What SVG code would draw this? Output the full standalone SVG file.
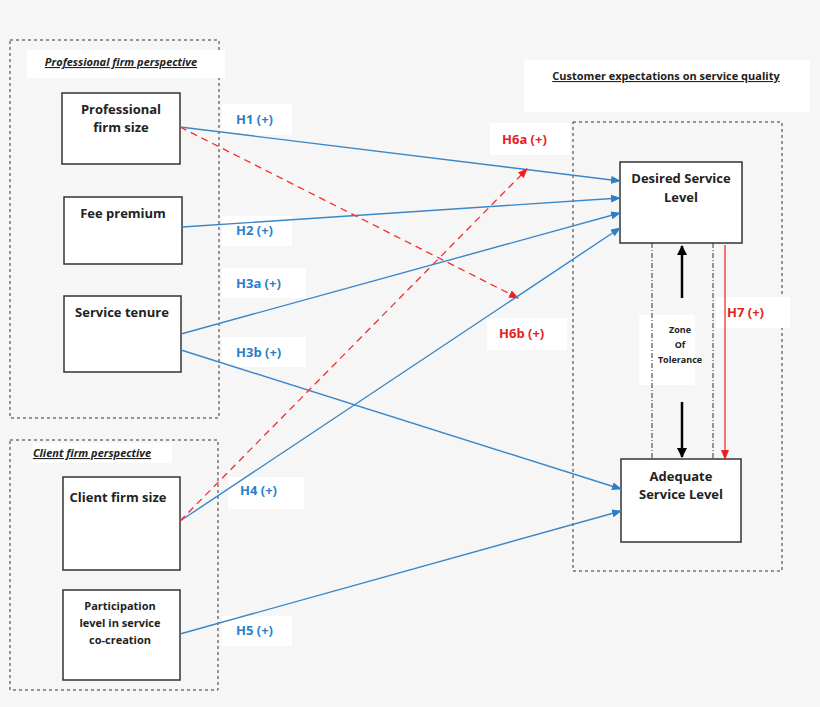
<svg xmlns="http://www.w3.org/2000/svg" width="820" height="707" viewBox="0 0 820 707">
<style>
text{font-family:"Open Sans","Liberation Sans",sans-serif;font-weight:bold;font-size:13px;fill:#222}
.node rect{fill:#fff;stroke:#333;stroke-width:1.5}
.wb{fill:#fff;stroke:none}
.grp{fill:none;stroke:#333;stroke-width:1;stroke-dasharray:3,3}
.b{fill:#2a7fc7;font-size:13px}
.r{fill:#e8201c;font-size:13px}
.t{font-size:11px;font-style:italic;text-decoration:underline}
.bl{stroke:#3a86c8;stroke-width:1.4;fill:none}
.rd{stroke:#f03030;stroke-width:1.3;fill:none;stroke-dasharray:7,5}
</style>
<defs>
<marker id="ab" markerWidth="10" markerHeight="8" refX="9" refY="4" orient="auto" markerUnits="userSpaceOnUse"><path d="M0,0L10,4L0,8z" fill="#2a7fc7"/></marker>
<marker id="ar" markerWidth="10" markerHeight="8" refX="9" refY="4" orient="auto" markerUnits="userSpaceOnUse"><path d="M0,0L10,4L0,8z" fill="#f02020"/></marker>
<marker id="ak" markerWidth="10" markerHeight="10" refX="9" refY="5" orient="auto" markerUnits="userSpaceOnUse"><path d="M0,0L10,5L0,10z" fill="#000"/></marker>
</defs>
<rect width="820" height="707" fill="#f6f6f6"/>
<g id="groups">
<rect class="grp" x="10" y="40" width="209" height="378"/>
<rect class="grp" x="10" y="440" width="208" height="250"/>
<rect class="grp" x="573" y="122" width="209" height="449"/>
<rect class="wb" x="27" y="50" width="198" height="28"/>
<text class="t" x="121" y="66" text-anchor="middle">Professional firm perspective</text>
<rect class="wb" x="32" y="443" width="140" height="20"/>
<text class="t" x="92" y="457" text-anchor="middle">Client firm perspective</text>
<rect class="wb" x="524" y="60" width="286" height="52"/>
<text x="666" y="80" text-anchor="middle" style="font-size:11px;text-decoration:underline">Customer expectations on service quality</text>
</g>
<g id="labelboxes">
<rect class="wb" x="639" y="315" width="56" height="70"/>
<rect class="wb" x="222" y="104" width="70" height="31"/>
<rect class="wb" x="222" y="216" width="70" height="30"/>
<rect class="wb" x="222" y="268" width="84" height="30"/>
<rect class="wb" x="222" y="337" width="84" height="30"/>
<rect class="wb" x="228" y="477" width="76" height="32"/>
<rect class="wb" x="222" y="616" width="70" height="30"/>
<rect class="wb" x="490" y="123" width="80" height="32"/>
<rect class="wb" x="487" y="318" width="80" height="32"/>
<rect class="wb" x="716" y="297" width="74" height="31"/>
</g>
<g id="n1" class="node"><rect x="62" y="93" width="118" height="71"/><text x="121" y="114" text-anchor="middle">Professional</text><text x="121" y="132" text-anchor="middle">firm size</text></g>
<g id="n2" class="node"><rect x="64" y="197" width="118" height="67"/><text x="123" y="218" text-anchor="middle">Fee premium</text></g>
<g id="n3" class="node"><rect x="64" y="296" width="117" height="76"/><text x="122" y="317" text-anchor="middle">Service tenure</text></g>
<g id="n4" class="node"><rect x="63" y="477" width="117" height="93"/><text x="118" y="502" text-anchor="middle">Client firm size</text></g>
<g id="n5" class="node"><rect x="63" y="590" width="117" height="90"/><text x="120" y="610" text-anchor="middle" style="font-size:11px">Participation</text><text x="120" y="627" text-anchor="middle" style="font-size:11px">level in service</text><text x="120" y="644" text-anchor="middle" style="font-size:11px">co-creation</text></g>
<g id="n6" class="node"><rect x="620" y="162" width="122" height="81"/><text x="681" y="183" text-anchor="middle">Desired Service</text><text x="681" y="202" text-anchor="middle">Level</text></g>
<g id="n7" class="node"><rect x="621" y="459" width="120" height="83"/><text x="681" y="481" text-anchor="middle">Adequate</text><text x="681" y="499" text-anchor="middle">Service Level</text></g>
<g id="connectors">
<line class="bl" x1="180" y1="127" x2="620" y2="181" marker-end="url(#ab)"/>
<line class="rd" x1="180" y1="127" x2="518" y2="298" marker-end="url(#ar)"/>
<line class="bl" x1="182" y1="227" x2="620" y2="198" marker-end="url(#ab)"/>
<line class="bl" x1="181" y1="334" x2="620" y2="213" marker-end="url(#ab)"/>
<line class="bl" x1="181" y1="350" x2="621" y2="489" marker-end="url(#ab)"/>
<line class="bl" x1="180" y1="521" x2="620" y2="228" marker-end="url(#ab)"/>
<line class="rd" x1="180" y1="521" x2="527" y2="169" marker-end="url(#ar)"/>
<line class="bl" x1="180" y1="634" x2="621" y2="511" marker-end="url(#ab)"/>
<line x1="652" y1="243" x2="652" y2="459" stroke="#333" stroke-dasharray="5,2,1,2"/>
<line x1="713" y1="243" x2="713" y2="459" stroke="#333" stroke-dasharray="5,2,1,2"/>
<line x1="725" y1="245" x2="725" y2="459" stroke="#f03030" stroke-width="1.3" marker-end="url(#ar)"/>
<line x1="682" y1="298" x2="682" y2="246" stroke="#000" stroke-width="2.5" marker-end="url(#ak)"/>
<line x1="682" y1="402" x2="682" y2="457" stroke="#000" stroke-width="2.5" marker-end="url(#ak)"/>
</g>
<g id="labels">
<text x="680" y="333" text-anchor="middle" style="font-size:9px">Zone</text>
<text x="680" y="348" text-anchor="middle" style="font-size:9px">Of</text>
<text x="680" y="363" text-anchor="middle" style="font-size:9px">Tolerance</text>
<text class="b" x="236" y="124">H1 (+)</text>
<text class="b" x="236" y="235">H2 (+)</text>
<text class="b" x="236" y="288">H3a (+)</text>
<text class="b" x="236" y="357">H3b (+)</text>
<text class="b" x="240" y="495">H4 (+)</text>
<text class="b" x="236" y="635">H5 (+)</text>
<text class="r" x="502" y="144">H6a (+)</text>
<text class="r" x="499" y="338">H6b (+)</text>
<text class="r" x="727" y="317">H7 (+)</text>
</g>
</svg>
